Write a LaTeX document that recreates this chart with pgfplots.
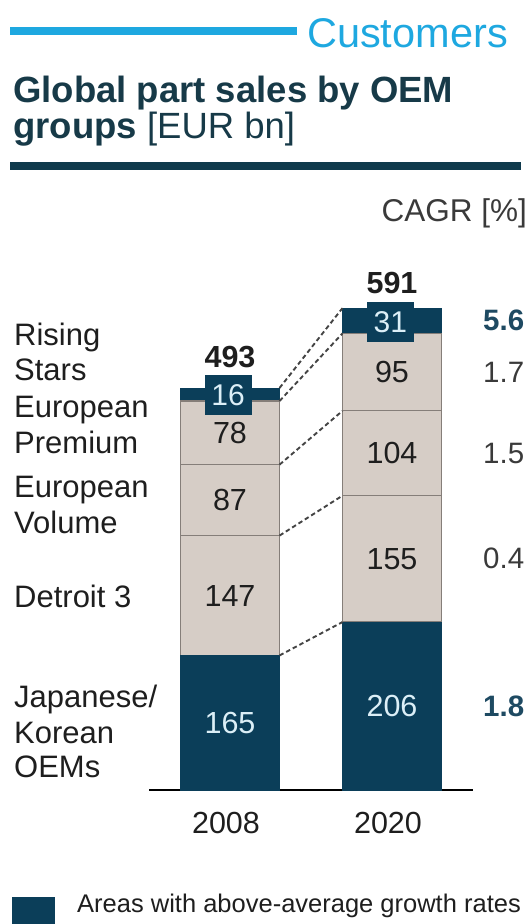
\documentclass[border=0pt]{standalone}
\usepackage{pgfplots}
\pgfplotsset{compat=1.18}
\usepackage{fontspec}
\setmainfont{Liberation Sans}
\definecolor{dk}{HTML}{0B3E59}
\definecolor{bg}{HTML}{D6CDC6}
\definecolor{edge}{HTML}{857E79}
\definecolor{cust}{HTML}{1EA8E0}
\definecolor{ttl}{HTML}{173A48}
\definecolor{rulec}{HTML}{0F3A4C}
\definecolor{cagrd}{HTML}{1E4A62}
\definecolor{txt}{HTML}{1E1E1E}
\definecolor{gtxt}{HTML}{3A3A3A}
\definecolor{lbl}{HTML}{DCEFF7}
\definecolor{dashc}{HTML}{444444}
\newcommand\fs[2]{\fontsize{#1bp}{#2bp}\selectfont}
\pgfplotsset{
  geom/.style={at={(149bp,-790bp)}, anchor=south west, scale only axis,
    width=324bp, height=489.24bp, xmin=-0.5, xmax=1.5, ymin=0, ymax=600},
  conn/.style={color=dashc, line width=1.9bp, dash pattern=on 4.5bp off 3bp, no markers},
}
\begin{document}
\begin{tikzpicture}
\useasboundingbox (0,0) rectangle (532bp,-924bp);
% header
\draw[cust, line width=8bp] (10bp,-31bp) -- (297bp,-31bp);
\node[anchor=base west, inner sep=0, text=cust] at (307bp,-47bp) {\fs{41.5}{48}Customers};
\node[anchor=base west, inner sep=0, text=ttl] at (13bp,-102bp) {\fs{36.5}{42}\bfseries Global part sales by OEM};
\node[anchor=base west, inner sep=0, text=ttl] at (13bp,-138bp) {\fs{36.5}{42}\textbf{groups} [EUR bn]};
\draw[rulec, line width=8bp] (10bp,-166bp) -- (521bp,-166bp);
\node[anchor=base east, inner sep=0, text=gtxt] at (527bp,-221bp) {\fs{31.5}{36}CAGR [\%]};
% left labels
\begin{scope}[every node/.style={anchor=base west, inner sep=0, text=txt, font=\fs{31}{36}}]
\node at (14bp,-345bp) {Rising};
\node at (14bp,-380bp) {Stars};
\node at (14bp,-417bp) {European};
\node at (14bp,-453bp) {Premium};
\node at (14bp,-497bp) {European};
\node at (14bp,-533bp) {Volume};
\node at (14bp,-607bp) {Detroit 3};
\node at (14bp,-707bp) {Japanese/};
\node at (14bp,-743bp) {Korean};
\node at (14bp,-777bp) {OEMs};
\end{scope}
% bars
\begin{axis}[geom, ybar stacked, bar width=99bp,
  axis y line=none, axis x line=bottom,
  x axis line style={-, black, line width=1.2bp},
  xtick={0,1}, xticklabels={2008,2020}, major tick length=0,
  xticklabel style={font=\fs{30.5}{36}, text=txt, anchor=center, yshift=-33bp, xshift=-4bp}]
\addplot[fill=dk, draw=dk, line width=1bp] coordinates {(0,165) (1,206)};
\addplot[fill=bg, draw=edge, line width=1.2bp] coordinates {(0,147) (1,155)};
\addplot[fill=bg, draw=edge, line width=1.2bp] coordinates {(0,87) (1,104)};
\addplot[fill=bg, draw=edge, line width=1.2bp] coordinates {(0,78) (1,95)};
\addplot[fill=dk, draw=dk, line width=1bp] coordinates {(0,16) (1,31)};
\end{axis}
% overlay: connectors and labels
\begin{axis}[geom, hide axis, clip=false]
\addplot[conn] coordinates {(0.3056,165) (0.6944,206)};
\addplot[conn] coordinates {(0.3056,312) (0.6944,361)};
\addplot[conn] coordinates {(0.3056,399) (0.6944,465)};
\addplot[conn] coordinates {(0.3056,477) (0.6944,560)};
\addplot[conn] coordinates {(0.3056,493) (0.6944,591)};
\begin{scope}[every node/.style={font=\fs{30.5}{36}, inner sep=0}]
\node[text=lbl] at (axis cs:0,82.5) {165};
\node[text=txt] at (axis cs:0,238.5) {147};
\node[text=txt] at (axis cs:0,355.5) {87};
\node[text=txt] at (axis cs:0,438) {78};
\node[fill=dk, text=lbl, minimum width=47bp, minimum height=40bp, font=\fs{30}{36}] at (axis cs:-0.012,484) {16};
\node[font=\fs{30.5}{36}\bfseries, text=txt] at (axis cs:0,531) {493};
\node[text=lbl] at (axis cs:1,103) {206};
\node[text=txt] at (axis cs:1,283.5) {155};
\node[text=txt] at (axis cs:1,413) {104};
\node[text=txt] at (axis cs:1,512.5) {95};
\node[fill=dk, text=lbl, minimum width=47bp, minimum height=40bp, font=\fs{30}{36}] at (axis cs:0.99,574) {31};
\node[font=\fs{30.5}{36}\bfseries, text=txt] at (axis cs:1,622) {591};
\node[anchor=west, font=\fs{29.5}{36}\bfseries, text=cagrd] at (axis cs:1.562,575.5) {5.6};
\node[anchor=west, text=gtxt, font=\fs{29.5}{36}] at (axis cs:1.562,512.5) {1.7};
\node[anchor=west, text=gtxt, font=\fs{29.5}{36}] at (axis cs:1.562,413) {1.5};
\node[anchor=west, text=gtxt, font=\fs{29.5}{36}] at (axis cs:1.562,283.5) {0.4};
\node[anchor=west, font=\fs{29.5}{36}\bfseries, text=cagrd] at (axis cs:1.562,103) {1.8};
\end{scope}
\end{axis}
% legend
\fill[dk] (12bp,-897bp) rectangle (55bp,-924bp);
\node[anchor=base west, inner sep=0, text=txt] at (77bp,-912bp) {\fs{25.5}{30}Areas with above-average growth rates};
\end{tikzpicture}
\end{document}
